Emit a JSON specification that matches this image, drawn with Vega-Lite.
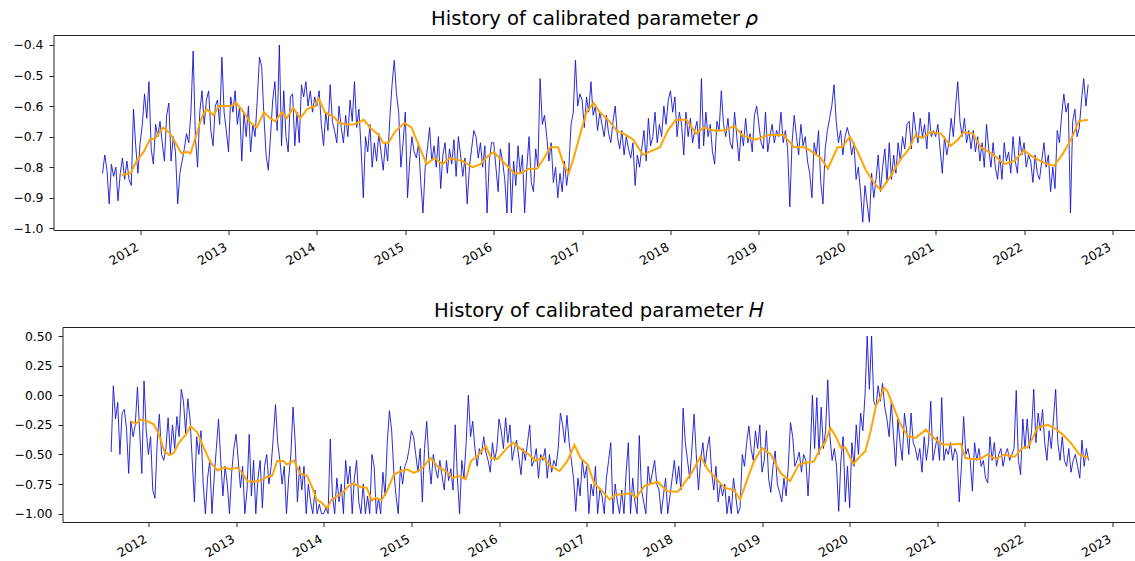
{
"$schema":"https://vega.github.io/schema/vega-lite/v6.json",
"background":"white",
"padding":{"left":12.5,"top":9,"right":0,"bottom":0},
"columns":1,
"align":"none",
"spacing":33,
"config":{"font":"DejaVu Sans","view":{"stroke":null},
"axis":{"labelFont":"DejaVu Sans","labelFontSize":12.4,"labelColor":"#000","domainColor":"#222","tickColor":"#222","tickSize":4.5,"labelPadding":6,"grid":false,"title":null,"domainWidth":1,"tickWidth":1},
"title":{"font":"DejaVu Sans","fontSize":19.6,"fontWeight":"normal","color":"#000","anchor":"middle","baseline":"alphabetic","offset":5}},
"datasets":{
"raw":[
{"t":2011.575,"r":-0.82,"h":-0.48},{"t":2011.6,"r":-0.76,"h":0.08},{"t":2011.625,"r":-0.81,"h":-0.2},{"t":2011.65,"r":-0.92,"h":-0.06},{"t":2011.675,"r":-0.79,"h":-0.5},{"t":2011.7,"r":-0.83,"h":-0.15},{"t":2011.725,"r":-0.8,"h":-0.12},{"t":2011.75,"r":-0.91,"h":-0.28},{"t":2011.775,"r":-0.82,"h":-0.66},{"t":2011.8,"r":-0.77,"h":-0.22},{"t":2011.825,"r":-0.84,"h":-0.35},{"t":2011.85,"r":-0.78,"h":-0.25},{"t":2011.875,"r":-0.84,"h":0.07},{"t":2011.9,"r":-0.86,"h":-0.3},{"t":2011.925,"r":-0.61,"h":-0.66},{"t":2011.95,"r":-0.73,"h":0.12},{"t":2011.975,"r":-0.82,"h":-0.3},
{"t":2012,"r":-0.72,"h":-0.5},{"t":2012.025,"r":-0.66,"h":-0.35},{"t":2012.05,"r":-0.56,"h":-0.8},{"t":2012.075,"r":-0.64,"h":-0.87},{"t":2012.1,"r":-0.52,"h":-0.4},{"t":2012.125,"r":-0.74,"h":-0.16},{"t":2012.15,"r":-0.79,"h":-0.5},{"t":2012.175,"r":-0.66,"h":-0.55},{"t":2012.2,"r":-0.7,"h":-0.45},{"t":2012.225,"r":-0.65,"h":-0.19},{"t":2012.25,"r":-0.72,"h":-0.5},{"t":2012.275,"r":-0.78,"h":-0.25},{"t":2012.3,"r":-0.63,"h":-0.45},{"t":2012.325,"r":-0.59,"h":-0.18},{"t":2012.35,"r":-0.78,"h":-0.35},{"t":2012.375,"r":-0.7,"h":0.05},{"t":2012.4,"r":-0.75,"h":-0.05},{"t":2012.425,"r":-0.92,"h":-0.32},{"t":2012.45,"r":-0.82,"h":-0.03},{"t":2012.475,"r":-0.78,"h":-0.2},{"t":2012.5,"r":-0.74,"h":-0.55},{"t":2012.525,"r":-0.69,"h":-0.9},{"t":2012.55,"r":-0.72,"h":-0.35},{"t":2012.575,"r":-0.62,"h":-0.5},{"t":2012.6,"r":-0.42,"h":-0.3},{"t":2012.625,"r":-0.7,"h":-0.75},{"t":2012.65,"r":-0.8,"h":-1},{"t":2012.675,"r":-0.62,"h":-0.7},{"t":2012.7,"r":-0.55,"h":-0.55},{"t":2012.725,"r":-0.66,"h":-1},{"t":2012.75,"r":-0.58,"h":-0.7},{"t":2012.775,"r":-0.55,"h":-0.45},{"t":2012.8,"r":-0.68,"h":-0.2},{"t":2012.825,"r":-0.73,"h":-0.55},{"t":2012.85,"r":-0.6,"h":-0.85},{"t":2012.875,"r":-0.58,"h":-0.6},{"t":2012.9,"r":-0.66,"h":-0.75},{"t":2012.925,"r":-0.44,"h":-1},{"t":2012.95,"r":-0.62,"h":-0.65},{"t":2012.975,"r":-0.68,"h":-0.45},
{"t":2013,"r":-0.75,"h":-0.33},{"t":2013.025,"r":-0.57,"h":-0.55},{"t":2013.05,"r":-0.62,"h":-0.78},{"t":2013.075,"r":-0.55,"h":-0.6},{"t":2013.1,"r":-0.66,"h":-1},{"t":2013.125,"r":-0.6,"h":-0.8},{"t":2013.15,"r":-0.78,"h":-0.33},{"t":2013.175,"r":-0.62,"h":-0.85},{"t":2013.2,"r":-0.7,"h":-0.55},{"t":2013.225,"r":-0.6,"h":-1},{"t":2013.25,"r":-0.75,"h":-0.7},{"t":2013.275,"r":-0.66,"h":-0.55},{"t":2013.3,"r":-0.7,"h":-0.95},{"t":2013.325,"r":-0.58,"h":-0.6},{"t":2013.35,"r":-0.44,"h":-0.5},{"t":2013.375,"r":-0.47,"h":-0.75},{"t":2013.4,"r":-0.63,"h":-0.6},{"t":2013.425,"r":-0.76,"h":-0.35},{"t":2013.45,"r":-0.81,"h":-0.08},{"t":2013.475,"r":-0.7,"h":-0.4},{"t":2013.5,"r":-0.58,"h":-0.55},{"t":2013.525,"r":-0.52,"h":-0.75},{"t":2013.55,"r":-0.68,"h":-0.6},{"t":2013.575,"r":-0.4,"h":-1},{"t":2013.6,"r":-0.73,"h":-0.7},{"t":2013.625,"r":-0.55,"h":-0.5},{"t":2013.65,"r":-0.7,"h":-0.1},{"t":2013.675,"r":-0.75,"h":-0.4},{"t":2013.7,"r":-0.57,"h":-0.9},{"t":2013.725,"r":-0.56,"h":-0.6},{"t":2013.75,"r":-0.73,"h":-0.8},{"t":2013.775,"r":-0.62,"h":-0.6},{"t":2013.8,"r":-0.72,"h":-1},{"t":2013.825,"r":-0.53,"h":-0.75},{"t":2013.85,"r":-0.57,"h":-0.9},{"t":2013.875,"r":-0.52,"h":-1},{"t":2013.9,"r":-0.6,"h":-0.8},{"t":2013.925,"r":-0.55,"h":-1},{"t":2013.95,"r":-0.62,"h":-0.92},{"t":2013.975,"r":-0.57,"h":-1},
{"t":2014,"r":-0.6,"h":-1},{"t":2014.025,"r":-0.55,"h":-0.95},{"t":2014.05,"r":-0.66,"h":-1},{"t":2014.075,"r":-0.73,"h":-0.37},{"t":2014.1,"r":-0.62,"h":-0.85},{"t":2014.125,"r":-0.68,"h":-1},{"t":2014.15,"r":-0.53,"h":-0.7},{"t":2014.175,"r":-0.65,"h":-0.9},{"t":2014.2,"r":-0.68,"h":-0.75},{"t":2014.225,"r":-0.72,"h":-1},{"t":2014.25,"r":-0.6,"h":-0.55},{"t":2014.275,"r":-0.67,"h":-0.75},{"t":2014.3,"r":-0.72,"h":-0.6},{"t":2014.325,"r":-0.63,"h":-1},{"t":2014.35,"r":-0.7,"h":-0.7},{"t":2014.375,"r":-0.58,"h":-0.55},{"t":2014.4,"r":-0.65,"h":-0.9},{"t":2014.425,"r":-0.52,"h":-1},{"t":2014.45,"r":-0.67,"h":-0.75},{"t":2014.475,"r":-0.61,"h":-1},{"t":2014.5,"r":-0.74,"h":-0.85},{"t":2014.525,"r":-0.9,"h":-1},{"t":2014.55,"r":-0.7,"h":-0.5},{"t":2014.575,"r":-0.75,"h":-0.6},{"t":2014.6,"r":-0.66,"h":-1},{"t":2014.625,"r":-0.8,"h":-0.87},{"t":2014.65,"r":-0.72,"h":-1},{"t":2014.675,"r":-0.78,"h":-0.65},{"t":2014.7,"r":-0.69,"h":-0.85},{"t":2014.725,"r":-0.75,"h":-0.4},{"t":2014.75,"r":-0.81,"h":-0.13},{"t":2014.775,"r":-0.72,"h":-0.3},{"t":2014.8,"r":-0.78,"h":-0.65},{"t":2014.825,"r":-0.64,"h":-0.85},{"t":2014.85,"r":-0.53,"h":-1},{"t":2014.875,"r":-0.45,"h":-0.6},{"t":2014.9,"r":-0.56,"h":-0.75},{"t":2014.925,"r":-0.62,"h":-0.6},{"t":2014.95,"r":-0.8,"h":-0.55},{"t":2014.975,"r":-0.72,"h":-0.45},
{"t":2015,"r":-0.62,"h":-0.3},{"t":2015.025,"r":-0.9,"h":-0.35},{"t":2015.05,"r":-0.78,"h":-0.5},{"t":2015.075,"r":-0.7,"h":-0.65},{"t":2015.1,"r":-0.75,"h":-0.45},{"t":2015.125,"r":-0.77,"h":-0.9},{"t":2015.15,"r":-0.72,"h":-0.45},{"t":2015.175,"r":-0.85,"h":-0.22},{"t":2015.2,"r":-0.95,"h":-0.55},{"t":2015.225,"r":-0.8,"h":-0.75},{"t":2015.25,"r":-0.74,"h":-0.5},{"t":2015.275,"r":-0.67,"h":-0.62},{"t":2015.3,"r":-0.78,"h":-0.7},{"t":2015.325,"r":-0.73,"h":-0.55},{"t":2015.35,"r":-0.8,"h":-0.68},{"t":2015.375,"r":-0.7,"h":-0.8},{"t":2015.4,"r":-0.87,"h":-0.55},{"t":2015.425,"r":-0.76,"h":-0.72},{"t":2015.45,"r":-0.72,"h":-0.62},{"t":2015.475,"r":-0.82,"h":-0.8},{"t":2015.5,"r":-0.74,"h":-0.25},{"t":2015.525,"r":-0.79,"h":-0.7},{"t":2015.55,"r":-0.71,"h":-1},{"t":2015.575,"r":-0.83,"h":-0.55},{"t":2015.6,"r":-0.7,"h":-0.7},{"t":2015.625,"r":-0.76,"h":-0.4},{"t":2015.65,"r":-0.83,"h":0},{"t":2015.675,"r":-0.77,"h":-0.35},{"t":2015.7,"r":-0.92,"h":-0.22},{"t":2015.725,"r":-0.8,"h":-0.45},{"t":2015.75,"r":-0.74,"h":-0.6},{"t":2015.775,"r":-0.68,"h":-0.45},{"t":2015.8,"r":-0.7,"h":-0.5},{"t":2015.825,"r":-0.77,"h":-0.35},{"t":2015.85,"r":-0.72,"h":-0.48},{"t":2015.875,"r":-0.8,"h":-0.55},{"t":2015.9,"r":-0.73,"h":-0.65},{"t":2015.925,"r":-0.95,"h":-0.4},{"t":2015.95,"r":-0.78,"h":-0.55},{"t":2015.975,"r":-0.72,"h":-0.45},
{"t":2016,"r":-0.72,"h":-0.2},{"t":2016.025,"r":-0.8,"h":-0.3},{"t":2016.05,"r":-0.88,"h":-0.45},{"t":2016.075,"r":-0.74,"h":-0.19},{"t":2016.1,"r":-0.78,"h":-0.4},{"t":2016.125,"r":-0.84,"h":-0.25},{"t":2016.15,"r":-0.95,"h":-0.55},{"t":2016.175,"r":-0.72,"h":-0.45},{"t":2016.2,"r":-0.95,"h":-0.38},{"t":2016.225,"r":-0.78,"h":-0.52},{"t":2016.25,"r":-0.86,"h":-0.67},{"t":2016.275,"r":-0.73,"h":-0.45},{"t":2016.3,"r":-0.82,"h":-0.55},{"t":2016.325,"r":-0.76,"h":-0.4},{"t":2016.35,"r":-0.95,"h":-0.25},{"t":2016.375,"r":-0.8,"h":-0.6},{"t":2016.4,"r":-0.7,"h":-0.55},{"t":2016.425,"r":-0.85,"h":-0.45},{"t":2016.45,"r":-0.88,"h":-0.7},{"t":2016.475,"r":-0.74,"h":-0.5},{"t":2016.5,"r":-0.8,"h":-0.55},{"t":2016.525,"r":-0.51,"h":-0.45},{"t":2016.55,"r":-0.66,"h":-0.7},{"t":2016.575,"r":-0.63,"h":-0.5},{"t":2016.6,"r":-0.7,"h":-0.65},{"t":2016.625,"r":-0.78,"h":-0.55},{"t":2016.65,"r":-0.72,"h":-0.6},{"t":2016.675,"r":-0.85,"h":-0.45},{"t":2016.7,"r":-0.8,"h":-0.15},{"t":2016.725,"r":-0.9,"h":-0.25},{"t":2016.75,"r":-0.82,"h":-0.4},{"t":2016.775,"r":-0.88,"h":-0.17},{"t":2016.8,"r":-0.78,"h":-0.4},{"t":2016.825,"r":-0.86,"h":-0.55},{"t":2016.85,"r":-0.8,"h":-0.7},{"t":2016.875,"r":-0.66,"h":-0.98},{"t":2016.9,"r":-0.62,"h":-0.7},{"t":2016.925,"r":-0.45,"h":-0.85},{"t":2016.95,"r":-0.6,"h":-0.55},{"t":2016.975,"r":-0.56,"h":-0.7},
{"t":2017,"r":-0.58,"h":-0.6},{"t":2017.025,"r":-0.67,"h":-1},{"t":2017.05,"r":-0.57,"h":-0.75},{"t":2017.075,"r":-0.62,"h":-0.85},{"t":2017.1,"r":-0.52,"h":-0.6},{"t":2017.125,"r":-0.63,"h":-1},{"t":2017.15,"r":-0.6,"h":-0.8},{"t":2017.175,"r":-0.68,"h":-0.85},{"t":2017.2,"r":-0.62,"h":-1},{"t":2017.225,"r":-0.66,"h":-0.7},{"t":2017.25,"r":-0.7,"h":-0.55},{"t":2017.275,"r":-0.63,"h":-0.4},{"t":2017.3,"r":-0.69,"h":-1},{"t":2017.325,"r":-0.72,"h":-0.75},{"t":2017.35,"r":-0.65,"h":-0.9},{"t":2017.375,"r":-0.6,"h":-1},{"t":2017.4,"r":-0.7,"h":-0.8},{"t":2017.425,"r":-0.74,"h":-1},{"t":2017.45,"r":-0.68,"h":-0.65},{"t":2017.475,"r":-0.76,"h":-0.4},{"t":2017.5,"r":-0.7,"h":-1},{"t":2017.525,"r":-0.74,"h":-0.7},{"t":2017.55,"r":-0.77,"h":-0.9},{"t":2017.575,"r":-0.72,"h":-1},{"t":2017.6,"r":-0.86,"h":-0.34},{"t":2017.625,"r":-0.76,"h":-0.8},{"t":2017.65,"r":-0.8,"h":-0.9},{"t":2017.675,"r":-0.74,"h":-1},{"t":2017.7,"r":-0.68,"h":-0.6},{"t":2017.725,"r":-0.78,"h":-0.75},{"t":2017.75,"r":-0.64,"h":-0.65},{"t":2017.775,"r":-0.73,"h":-0.55},{"t":2017.8,"r":-0.7,"h":-0.75},{"t":2017.825,"r":-0.62,"h":-0.8},{"t":2017.85,"r":-0.72,"h":-1},{"t":2017.875,"r":-0.66,"h":-0.85},{"t":2017.9,"r":-0.7,"h":-0.7},{"t":2017.925,"r":-0.6,"h":-1},{"t":2017.95,"r":-0.66,"h":-0.85},{"t":2017.975,"r":-0.58,"h":-0.7},
{"t":2018,"r":-0.55,"h":-0.55},{"t":2018.025,"r":-0.62,"h":-0.75},{"t":2018.05,"r":-0.57,"h":-0.6},{"t":2018.075,"r":-0.7,"h":-0.8},{"t":2018.1,"r":-0.62,"h":-0.11},{"t":2018.125,"r":-0.66,"h":-0.4},{"t":2018.15,"r":-0.76,"h":-0.55},{"t":2018.175,"r":-0.62,"h":-0.7},{"t":2018.2,"r":-0.7,"h":-0.45},{"t":2018.225,"r":-0.64,"h":-0.16},{"t":2018.25,"r":-0.72,"h":-0.5},{"t":2018.275,"r":-0.68,"h":-0.8},{"t":2018.3,"r":-0.65,"h":-0.55},{"t":2018.325,"r":-0.74,"h":-0.4},{"t":2018.35,"r":-0.51,"h":-0.6},{"t":2018.375,"r":-0.73,"h":-0.45},{"t":2018.4,"r":-0.62,"h":-0.35},{"t":2018.425,"r":-0.7,"h":-0.65},{"t":2018.45,"r":-0.66,"h":-0.8},{"t":2018.475,"r":-0.75,"h":-0.6},{"t":2018.5,"r":-0.79,"h":-0.9},{"t":2018.525,"r":-0.65,"h":-0.75},{"t":2018.55,"r":-0.68,"h":-0.85},{"t":2018.575,"r":-0.55,"h":-0.75},{"t":2018.6,"r":-0.66,"h":-1},{"t":2018.625,"r":-0.7,"h":-0.85},{"t":2018.65,"r":-0.64,"h":-1},{"t":2018.675,"r":-0.72,"h":-0.7},{"t":2018.7,"r":-0.74,"h":-0.85},{"t":2018.725,"r":-0.62,"h":-1},{"t":2018.75,"r":-0.7,"h":-0.95},{"t":2018.775,"r":-0.78,"h":-0.5},{"t":2018.8,"r":-0.68,"h":-0.6},{"t":2018.825,"r":-0.73,"h":-0.4},{"t":2018.85,"r":-0.64,"h":-0.26},{"t":2018.875,"r":-0.72,"h":-0.45},{"t":2018.9,"r":-0.69,"h":-0.55},{"t":2018.925,"r":-0.75,"h":-0.3},{"t":2018.95,"r":-0.63,"h":-0.45},{"t":2018.975,"r":-0.6,"h":-0.25},
{"t":2019,"r":-0.66,"h":-0.65},{"t":2019.025,"r":-0.72,"h":-0.55},{"t":2019.05,"r":-0.74,"h":-0.3},{"t":2019.075,"r":-0.62,"h":-0.7},{"t":2019.1,"r":-0.75,"h":-0.82},{"t":2019.125,"r":-0.7,"h":-0.6},{"t":2019.15,"r":-0.66,"h":-0.47},{"t":2019.175,"r":-0.72,"h":-0.75},{"t":2019.2,"r":-0.68,"h":-0.82},{"t":2019.225,"r":-0.7,"h":-0.9},{"t":2019.25,"r":-0.62,"h":-0.7},{"t":2019.275,"r":-0.72,"h":-0.85},{"t":2019.3,"r":-0.68,"h":-0.6},{"t":2019.325,"r":-0.74,"h":-0.23},{"t":2019.35,"r":-0.93,"h":-0.35},{"t":2019.375,"r":-0.72,"h":-0.6},{"t":2019.4,"r":-0.63,"h":-0.55},{"t":2019.425,"r":-0.7,"h":-0.48},{"t":2019.45,"r":-0.76,"h":-0.65},{"t":2019.475,"r":-0.66,"h":-0.5},{"t":2019.5,"r":-0.73,"h":-0.55},{"t":2019.525,"r":-0.7,"h":-0.85},{"t":2019.55,"r":-0.78,"h":-0.5},{"t":2019.575,"r":-0.82,"h":0},{"t":2019.6,"r":-0.9,"h":-0.45},{"t":2019.625,"r":-0.72,"h":-0.02},{"t":2019.65,"r":-0.76,"h":-0.5},{"t":2019.675,"r":-0.68,"h":-0.1},{"t":2019.7,"r":-0.85,"h":-0.45},{"t":2019.725,"r":-0.92,"h":-0.3},{"t":2019.75,"r":-0.74,"h":0.13},{"t":2019.775,"r":-0.68,"h":-0.35},{"t":2019.8,"r":-0.64,"h":-0.55},{"t":2019.825,"r":-0.6,"h":-0.45},{"t":2019.85,"r":-0.53,"h":-0.6},{"t":2019.875,"r":-0.65,"h":-0.98},{"t":2019.9,"r":-0.72,"h":-0.55},{"t":2019.925,"r":-0.68,"h":-0.35},{"t":2019.95,"r":-0.76,"h":-0.9},{"t":2019.975,"r":-0.7,"h":-0.6},
{"t":2020,"r":-0.67,"h":-0.95},{"t":2020.025,"r":-0.7,"h":-0.4},{"t":2020.05,"r":-0.76,"h":-0.6},{"t":2020.075,"r":-0.72,"h":-0.25},{"t":2020.1,"r":-0.84,"h":-0.5},{"t":2020.125,"r":-0.8,"h":-0.15},{"t":2020.15,"r":-0.88,"h":-0.3},{"t":2020.175,"r":-0.98,"h":0},{"t":2020.2,"r":-0.86,"h":0.5},{"t":2020.225,"r":-0.92,"h":0.05},{"t":2020.25,"r":-0.98,"h":0.5},{"t":2020.275,"r":-0.82,"h":-0.05},{"t":2020.3,"r":-0.9,"h":-0.1},{"t":2020.325,"r":-0.84,"h":0.08},{"t":2020.35,"r":-0.76,"h":-0.05},{"t":2020.375,"r":-0.88,"h":0.1},{"t":2020.4,"r":-0.8,"h":-0.1},{"t":2020.425,"r":-0.74,"h":-0.2},{"t":2020.45,"r":-0.85,"h":-0.35},{"t":2020.475,"r":-0.72,"h":-0.05},{"t":2020.5,"r":-0.84,"h":-0.35},{"t":2020.525,"r":-0.76,"h":-0.6},{"t":2020.55,"r":-0.82,"h":-0.2},{"t":2020.575,"r":-0.72,"h":-0.4},{"t":2020.6,"r":-0.78,"h":-0.55},{"t":2020.625,"r":-0.7,"h":-0.15},{"t":2020.65,"r":-0.74,"h":-0.3},{"t":2020.675,"r":-0.66,"h":-0.5},{"t":2020.7,"r":-0.65,"h":-0.15},{"t":2020.725,"r":-0.74,"h":-0.4},{"t":2020.75,"r":-0.62,"h":-0.45},{"t":2020.775,"r":-0.68,"h":-0.55},{"t":2020.8,"r":-0.72,"h":-0.45},{"t":2020.825,"r":-0.64,"h":-0.65},{"t":2020.85,"r":-0.7,"h":-0.35},{"t":2020.875,"r":-0.66,"h":-0.55},{"t":2020.9,"r":-0.74,"h":-0.4},{"t":2020.925,"r":-0.62,"h":-0.05},{"t":2020.95,"r":-0.7,"h":-0.55},{"t":2020.975,"r":-0.68,"h":-0.45},
{"t":2021,"r":-0.7,"h":-0.35},{"t":2021.025,"r":-0.66,"h":-0.55},{"t":2021.05,"r":-0.74,"h":-0.02},{"t":2021.075,"r":-0.82,"h":-0.55},{"t":2021.1,"r":-0.7,"h":-0.45},{"t":2021.125,"r":-0.76,"h":-0.5},{"t":2021.15,"r":-0.72,"h":-0.4},{"t":2021.175,"r":-0.64,"h":-0.55},{"t":2021.2,"r":-0.7,"h":-0.45},{"t":2021.225,"r":-0.6,"h":-0.5},{"t":2021.25,"r":-0.52,"h":-0.9},{"t":2021.275,"r":-0.65,"h":-0.6},{"t":2021.3,"r":-0.7,"h":-0.18},{"t":2021.325,"r":-0.64,"h":-0.5},{"t":2021.35,"r":-0.72,"h":-0.45},{"t":2021.375,"r":-0.68,"h":-0.55},{"t":2021.4,"r":-0.74,"h":-0.81},{"t":2021.425,"r":-0.68,"h":-0.4},{"t":2021.45,"r":-0.75,"h":-0.55},{"t":2021.475,"r":-0.7,"h":-0.45},{"t":2021.5,"r":-0.78,"h":-0.6},{"t":2021.525,"r":-0.72,"h":-0.55},{"t":2021.55,"r":-0.8,"h":-0.7},{"t":2021.575,"r":-0.66,"h":-0.74},{"t":2021.6,"r":-0.74,"h":-0.35},{"t":2021.625,"r":-0.8,"h":-0.55},{"t":2021.65,"r":-0.72,"h":-0.4},{"t":2021.675,"r":-0.8,"h":-0.6},{"t":2021.7,"r":-0.84,"h":-0.5},{"t":2021.725,"r":-0.76,"h":-0.45},{"t":2021.75,"r":-0.84,"h":-0.6},{"t":2021.775,"r":-0.72,"h":-0.5},{"t":2021.8,"r":-0.78,"h":-0.45},{"t":2021.825,"r":-0.75,"h":-0.55},{"t":2021.85,"r":-0.82,"h":-0.5},{"t":2021.875,"r":-0.7,"h":-0.45},{"t":2021.9,"r":-0.78,"h":0.04},{"t":2021.925,"r":-0.82,"h":-0.55},{"t":2021.95,"r":-0.7,"h":-0.67},{"t":2021.975,"r":-0.76,"h":-0.2},
{"t":2022,"r":-0.72,"h":-0.45},{"t":2022.025,"r":-0.8,"h":-0.2},{"t":2022.05,"r":-0.76,"h":-0.45},{"t":2022.075,"r":-0.78,"h":-0.3},{"t":2022.1,"r":-0.85,"h":0.05},{"t":2022.125,"r":-0.76,"h":-0.4},{"t":2022.15,"r":-0.82,"h":-0.15},{"t":2022.175,"r":-0.84,"h":-0.3},{"t":2022.2,"r":-0.78,"h":-0.12},{"t":2022.225,"r":-0.72,"h":-0.4},{"t":2022.25,"r":-0.8,"h":-0.55},{"t":2022.275,"r":-0.76,"h":-0.3},{"t":2022.3,"r":-0.88,"h":-0.45},{"t":2022.325,"r":-0.8,"h":-0.2},{"t":2022.35,"r":-0.87,"h":0.05},{"t":2022.375,"r":-0.68,"h":-0.4},{"t":2022.4,"r":-0.72,"h":-0.55},{"t":2022.425,"r":-0.63,"h":-0.35},{"t":2022.45,"r":-0.56,"h":-0.55},{"t":2022.475,"r":-0.62,"h":-0.6},{"t":2022.5,"r":-0.59,"h":-0.45},{"t":2022.525,"r":-0.95,"h":-0.65},{"t":2022.55,"r":-0.65,"h":-0.55},{"t":2022.575,"r":-0.61,"h":-0.5},{"t":2022.6,"r":-0.7,"h":-0.6},{"t":2022.625,"r":-0.67,"h":-0.7},{"t":2022.65,"r":-0.58,"h":-0.38},{"t":2022.675,"r":-0.51,"h":-0.6},{"t":2022.7,"r":-0.6,"h":-0.45},{"t":2022.725,"r":-0.53,"h":-0.55}
],
"rma":[
{"t":2011.79,"r":-0.826},{"t":2011.89,"r":-0.82},{"t":2011.96,"r":-0.78},{"t":2012.04,"r":-0.75},{"t":2012.11,"r":-0.71},{"t":2012.17,"r":-0.705},{"t":2012.26,"r":-0.67},{"t":2012.34,"r":-0.69},{"t":2012.4,"r":-0.72},{"t":2012.47,"r":-0.755},{"t":2012.53,"r":-0.75},{"t":2012.57,"r":-0.755},{"t":2012.64,"r":-0.69},{"t":2012.7,"r":-0.635},{"t":2012.75,"r":-0.61},{"t":2012.83,"r":-0.63},{"t":2012.89,"r":-0.6},{"t":2012.96,"r":-0.6},{"t":2013.02,"r":-0.6},{"t":2013.09,"r":-0.59},{"t":2013.17,"r":-0.62},{"t":2013.25,"r":-0.655},{"t":2013.32,"r":-0.67},{"t":2013.4,"r":-0.62},{"t":2013.47,"r":-0.64},{"t":2013.53,"r":-0.65},{"t":2013.6,"r":-0.62},{"t":2013.66,"r":-0.64},{"t":2013.73,"r":-0.605},{"t":2013.81,"r":-0.64},{"t":2013.89,"r":-0.61},{"t":2013.98,"r":-0.6},{"t":2014.02,"r":-0.575},{"t":2014.09,"r":-0.62},{"t":2014.19,"r":-0.635},{"t":2014.25,"r":-0.655},{"t":2014.34,"r":-0.66},{"t":2014.42,"r":-0.66},{"t":2014.53,"r":-0.645},{"t":2014.6,"r":-0.67},{"t":2014.7,"r":-0.695},{"t":2014.75,"r":-0.72},{"t":2014.81,"r":-0.72},{"t":2014.88,"r":-0.685},{"t":2014.99,"r":-0.655},{"t":2015.07,"r":-0.67},{"t":2015.14,"r":-0.72},{"t":2015.24,"r":-0.79},{"t":2015.33,"r":-0.77},{"t":2015.42,"r":-0.79},{"t":2015.5,"r":-0.77},{"t":2015.65,"r":-0.78},{"t":2015.76,"r":-0.8},{"t":2015.85,"r":-0.79},{"t":2015.93,"r":-0.765},{"t":2016,"r":-0.75},{"t":2016.08,"r":-0.775},{"t":2016.17,"r":-0.8},{"t":2016.23,"r":-0.82},{"t":2016.3,"r":-0.82},{"t":2016.4,"r":-0.805},{"t":2016.49,"r":-0.805},{"t":2016.57,"r":-0.77},{"t":2016.64,"r":-0.735},{"t":2016.73,"r":-0.735},{"t":2016.79,"r":-0.79},{"t":2016.85,"r":-0.82},{"t":2016.9,"r":-0.775},{"t":2016.98,"r":-0.69},{"t":2017.05,"r":-0.62},{"t":2017.13,"r":-0.59},{"t":2017.2,"r":-0.62},{"t":2017.31,"r":-0.65},{"t":2017.39,"r":-0.68},{"t":2017.5,"r":-0.695},{"t":2017.58,"r":-0.71},{"t":2017.69,"r":-0.76},{"t":2017.76,"r":-0.75},{"t":2017.88,"r":-0.735},{"t":2017.97,"r":-0.68},{"t":2018.06,"r":-0.645},{"t":2018.18,"r":-0.645},{"t":2018.29,"r":-0.69},{"t":2018.38,"r":-0.67},{"t":2018.48,"r":-0.68},{"t":2018.61,"r":-0.68},{"t":2018.72,"r":-0.665},{"t":2018.81,"r":-0.695},{"t":2018.96,"r":-0.71},{"t":2019.11,"r":-0.695},{"t":2019.28,"r":-0.695},{"t":2019.4,"r":-0.735},{"t":2019.51,"r":-0.735},{"t":2019.58,"r":-0.745},{"t":2019.7,"r":-0.77},{"t":2019.78,"r":-0.805},{"t":2019.89,"r":-0.735},{"t":2019.94,"r":-0.735},{"t":2020.03,"r":-0.7},{"t":2020.11,"r":-0.745},{"t":2020.21,"r":-0.81},{"t":2020.3,"r":-0.85},{"t":2020.38,"r":-0.875},{"t":2020.49,"r":-0.83},{"t":2020.6,"r":-0.775},{"t":2020.7,"r":-0.74},{"t":2020.77,"r":-0.695},{"t":2020.85,"r":-0.705},{"t":2020.94,"r":-0.685},{"t":2021.06,"r":-0.69},{"t":2021.17,"r":-0.73},{"t":2021.25,"r":-0.71},{"t":2021.32,"r":-0.685},{"t":2021.42,"r":-0.69},{"t":2021.51,"r":-0.735},{"t":2021.6,"r":-0.75},{"t":2021.7,"r":-0.77},{"t":2021.77,"r":-0.79},{"t":2021.89,"r":-0.78},{"t":2022,"r":-0.745},{"t":2022.09,"r":-0.765},{"t":2022.19,"r":-0.78},{"t":2022.26,"r":-0.79},{"t":2022.34,"r":-0.795},{"t":2022.43,"r":-0.76},{"t":2022.53,"r":-0.71},{"t":2022.62,"r":-0.65},{"t":2022.72,"r":-0.645}
],
"hma":[
{"t":2011.8,"h":-0.22},{"t":2011.86,"h":-0.24},{"t":2011.91,"h":-0.205},{"t":2011.99,"h":-0.22},{"t":2012.06,"h":-0.245},{"t":2012.12,"h":-0.33},{"t":2012.18,"h":-0.47},{"t":2012.24,"h":-0.505},{"t":2012.29,"h":-0.485},{"t":2012.35,"h":-0.4},{"t":2012.43,"h":-0.33},{"t":2012.48,"h":-0.26},{"t":2012.56,"h":-0.315},{"t":2012.63,"h":-0.44},{"t":2012.71,"h":-0.57},{"t":2012.79,"h":-0.635},{"t":2012.86,"h":-0.61},{"t":2012.94,"h":-0.625},{"t":2013.01,"h":-0.61},{"t":2013.07,"h":-0.655},{"t":2013.13,"h":-0.725},{"t":2013.2,"h":-0.73},{"t":2013.28,"h":-0.72},{"t":2013.35,"h":-0.69},{"t":2013.41,"h":-0.68},{"t":2013.47,"h":-0.555},{"t":2013.54,"h":-0.555},{"t":2013.58,"h":-0.585},{"t":2013.66,"h":-0.55},{"t":2013.73,"h":-0.66},{"t":2013.81,"h":-0.68},{"t":2013.87,"h":-0.78},{"t":2013.92,"h":-0.88},{"t":2013.98,"h":-0.91},{"t":2014.04,"h":-0.955},{"t":2014.09,"h":-0.88},{"t":2014.19,"h":-0.84},{"t":2014.28,"h":-0.77},{"t":2014.34,"h":-0.745},{"t":2014.42,"h":-0.775},{"t":2014.49,"h":-0.78},{"t":2014.55,"h":-0.89},{"t":2014.59,"h":-0.865},{"t":2014.66,"h":-0.885},{"t":2014.72,"h":-0.81},{"t":2014.8,"h":-0.67},{"t":2014.88,"h":-0.64},{"t":2014.95,"h":-0.625},{"t":2015.03,"h":-0.655},{"t":2015.11,"h":-0.625},{"t":2015.22,"h":-0.53},{"t":2015.3,"h":-0.6},{"t":2015.39,"h":-0.64},{"t":2015.47,"h":-0.7},{"t":2015.54,"h":-0.68},{"t":2015.62,"h":-0.71},{"t":2015.68,"h":-0.555},{"t":2015.75,"h":-0.515},{"t":2015.85,"h":-0.43},{"t":2015.91,"h":-0.53},{"t":2015.98,"h":-0.54},{"t":2016.08,"h":-0.455},{"t":2016.16,"h":-0.4},{"t":2016.25,"h":-0.455},{"t":2016.34,"h":-0.5},{"t":2016.42,"h":-0.555},{"t":2016.5,"h":-0.52},{"t":2016.59,"h":-0.6},{"t":2016.69,"h":-0.64},{"t":2016.78,"h":-0.555},{"t":2016.86,"h":-0.42},{"t":2016.93,"h":-0.53},{"t":2017.01,"h":-0.585},{"t":2017.09,"h":-0.75},{"t":2017.16,"h":-0.795},{"t":2017.26,"h":-0.88},{"t":2017.33,"h":-0.84},{"t":2017.43,"h":-0.835},{"t":2017.5,"h":-0.825},{"t":2017.56,"h":-0.865},{"t":2017.66,"h":-0.765},{"t":2017.81,"h":-0.73},{"t":2017.92,"h":-0.81},{"t":2018.04,"h":-0.815},{"t":2018.13,"h":-0.725},{"t":2018.21,"h":-0.64},{"t":2018.3,"h":-0.515},{"t":2018.38,"h":-0.625},{"t":2018.47,"h":-0.7},{"t":2018.57,"h":-0.78},{"t":2018.68,"h":-0.8},{"t":2018.75,"h":-0.88},{"t":2018.84,"h":-0.695},{"t":2018.91,"h":-0.555},{"t":2019,"h":-0.445},{"t":2019.1,"h":-0.5},{"t":2019.21,"h":-0.655},{"t":2019.32,"h":-0.725},{"t":2019.42,"h":-0.585},{"t":2019.5,"h":-0.57},{"t":2019.59,"h":-0.56},{"t":2019.67,"h":-0.445},{"t":2019.72,"h":-0.4},{"t":2019.78,"h":-0.275},{"t":2019.84,"h":-0.345},{"t":2019.9,"h":-0.445},{"t":2019.95,"h":-0.44},{"t":2020.04,"h":-0.58},{"t":2020.12,"h":-0.515},{"t":2020.18,"h":-0.47},{"t":2020.24,"h":-0.3},{"t":2020.3,"h":-0.09},{"t":2020.35,"h":-0.02},{"t":2020.39,"h":0.065},{"t":2020.43,"h":0.035},{"t":2020.49,"h":-0.08},{"t":2020.58,"h":-0.245},{"t":2020.66,"h":-0.345},{"t":2020.75,"h":-0.36},{"t":2020.87,"h":-0.29},{"t":2020.96,"h":-0.36},{"t":2021.06,"h":-0.415},{"t":2021.15,"h":-0.415},{"t":2021.27,"h":-0.41},{"t":2021.32,"h":-0.53},{"t":2021.42,"h":-0.54},{"t":2021.5,"h":-0.535},{"t":2021.57,"h":-0.5},{"t":2021.67,"h":-0.54},{"t":2021.76,"h":-0.5},{"t":2021.88,"h":-0.52},{"t":2021.97,"h":-0.445},{"t":2022.03,"h":-0.44},{"t":2022.09,"h":-0.36},{"t":2022.14,"h":-0.275},{"t":2022.26,"h":-0.25},{"t":2022.33,"h":-0.275},{"t":2022.43,"h":-0.33},{"t":2022.52,"h":-0.4},{"t":2022.62,"h":-0.5},{"t":2022.72,"h":-0.53}
]},
"concat":[
{"title":{"text":"History of calibrated parameter 𝜌"},
"width":1081.5,"height":195,
"layer":[
{"data":{"name":"raw"},"mark":{"type":"line","color":"#1414d2","strokeWidth":0.9},
"encoding":{
"x":{"field":"t","type":"quantitative","scale":{"domain":[2011.02,2023.255],"nice":false,"zero":false},"axis":{"values":[2012,2013,2014,2015,2016,2017,2018,2019,2020,2021,2022,2023],"format":"d","labelAngle":-30,"labelAlign":"right","labelBaseline":"top","labelOffset":-6}},
"y":{"field":"r","type":"quantitative","scale":{"domain":[-1.0056,-0.3673],"nice":false,"zero":false},"axis":{"values":[-1,-0.9,-0.8,-0.7,-0.6,-0.5,-0.4],"format":".1f","labelExpr":"replace(datum.label,'-','−')"}}}},
{"data":{"name":"rma"},"mark":{"type":"line","color":"#ffa500","strokeWidth":2},
"encoding":{
"x":{"field":"t","type":"quantitative","scale":{"domain":[2011.02,2023.255],"nice":false,"zero":false},"axis":{"orient":"top","labels":false,"ticks":false,"domain":true}},
"y":{"field":"r","type":"quantitative","scale":{"domain":[-1.0056,-0.3673],"nice":false,"zero":false},"axis":{"values":[-1,-0.9,-0.8,-0.7,-0.6,-0.5,-0.4],"format":".1f","labelExpr":"replace(datum.label,'-','−')"}}}}
],
"resolve":{"axis":{"x":"independent"}}},
{"title":{"text":"History of calibrated parameter 𝐻","dx":4.5},
"width":1081.5,"height":195,
"layer":[
{"data":{"name":"raw"},"mark":{"type":"line","color":"#1414d2","strokeWidth":0.9},
"encoding":{
"x":{"field":"t","type":"quantitative","scale":{"domain":[2011.02,2023.255],"range":[9,1081.5],"nice":false,"zero":false},"axis":{"values":[2012,2013,2014,2015,2016,2017,2018,2019,2020,2021,2022,2023],"format":"d","labelAngle":-30,"labelAlign":"right","labelBaseline":"top","labelOffset":-6}},
"y":{"field":"h","type":"quantitative","scale":{"domain":[-1.07,0.576],"nice":false,"zero":false},"axis":{"values":[-1,-0.75,-0.5,-0.25,0,0.25,0.5],"format":".2f","offset":-9,"labelExpr":"replace(datum.label,'-','−')"}}}},
{"data":{"name":"hma"},"mark":{"type":"line","color":"#ffa500","strokeWidth":2},
"encoding":{
"x":{"field":"t","type":"quantitative","scale":{"domain":[2011.02,2023.255],"range":[9,1081.5],"nice":false,"zero":false},"axis":{"orient":"top","labels":false,"ticks":false,"domain":true}},
"y":{"field":"h","type":"quantitative","scale":{"domain":[-1.07,0.576],"nice":false,"zero":false},"axis":{"values":[-1,-0.75,-0.5,-0.25,0,0.25,0.5],"format":".2f","offset":-9,"labelExpr":"replace(datum.label,'-','−')"}}}}
],
"resolve":{"axis":{"x":"independent"}}}
]
}
